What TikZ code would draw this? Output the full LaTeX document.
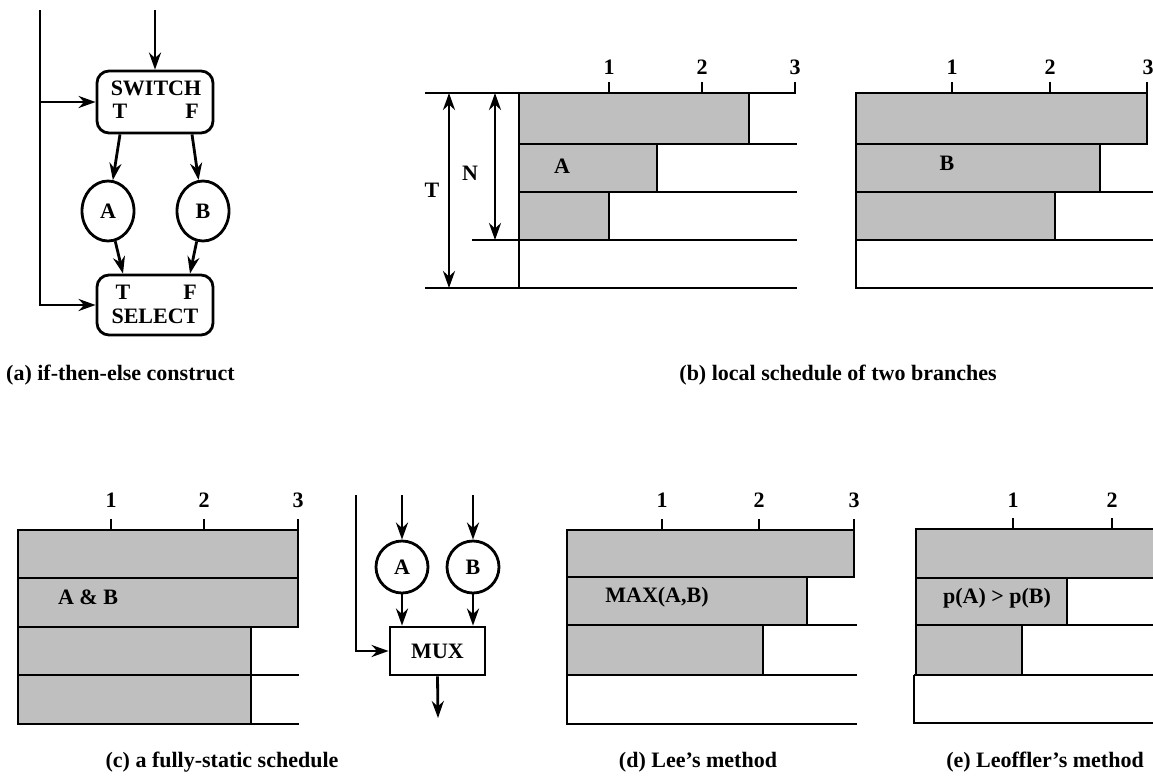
\documentclass[tikz,border=0pt]{standalone}
\usepackage{fontspec}
\setmainfont{Liberation Serif}
\usetikzlibrary{arrows.meta,shapes.geometric}
\begin{document}
\begin{tikzpicture}[x=1pt,y=-1pt,
  every node/.style={font=\fontsize{22}{24}\selectfont\bfseries, inner sep=0pt},
  ln/.style={line width=2.8pt},
  tip/.tip={Stealth[length=17pt,width=12pt,inset=5.5pt]},
  arr/.style={ln,-tip},
  darr/.style={ln,tip-tip},
  shade/.style={ln, fill=black!25},
  rbox/.style={draw, ln, rounded corners=12pt, minimum width=116pt, minimum height=62pt},
  sbox/.style={draw, ln, minimum width=95pt, minimum height=48pt},
  circ/.style={draw, ln, circle, minimum size=52pt},
  ell/.style={draw, ln, ellipse, minimum width=52pt, minimum height=60pt},
]
\useasboundingbox (0,0) rectangle (1153,780);

% ---------- (a) if-then-else ----------
\node[rbox] (switch) at (155,102) {};
\node (swtxt) at (156,88) {SWITCH};
\node (swT) at (120,111) {T};
\node (swF) at (192,111) {F};
\node[ell] (A1) at (108,211) {A};
\node[ell] (B1) at (203,211) {B};
\node[rbox, minimum height=60pt] (select) at (155,305) {};
\node (seT) at (123,292) {T};
\node (seF) at (190,292) {F};
\node (setxt) at (155,316) {SELECT};
\coordinate (ctop) at (40,10);
\coordinate (in1) at (155,10);
\draw[arr] (in1) -- (switch.north);
\draw[arr] (ctop) |- (select.west);
\draw[arr] (ctop |- switch.west) -- (switch.west);
\draw[arr] (swT |- switch.south) -- (A1);
\draw[arr] (swF |- switch.south) -- (B1);
\draw[arr] (A1) -- (seT |- select.north);
\draw[arr] (B1) -- (seF |- select.north);
\node[anchor=west] (capa) at (6,375) {(a) if-then-else construct};

% ---------- (b) local schedule, left ----------
\node (bl1) at (609,67) {1};
\node (bl2) at (702,67) {2};
\node (bl3) at (795,67) {3};
\draw[shade] (519,93) rectangle (749,144);
\draw[shade] (519,144) rectangle (657,192);
\draw[shade] (519,192) rectangle (609,240);
\draw[ln] (425,93) -- (795,93) -- (795,82);
\draw[ln] (609,93) -- (609,82);
\draw[ln] (702,93) -- (702,82);
\draw[ln] (749,144) -- (797,144);
\draw[ln] (657,192) -- (797,192);
\draw[ln] (472,240) -- (797,240);
\draw[ln] (425,288) -- (797,288);
\draw[ln] (519,93) -- (519,288);
\draw[darr] (449,93) -- (449,288);
\draw[darr] (495,93) -- (495,240);
\node (bT) at (432,190) {T};
\node (bN) at (470,173) {N};
\node (bA) at (562,166) {A};

% ---------- (b) local schedule, right ----------
\node (br1) at (952,67) {1};
\node (br2) at (1050,67) {2};
\node (br3) at (1148,67) {3};
\draw[shade] (856,93) rectangle (1147,144);
\draw[shade] (856,144) rectangle (1100,192);
\draw[shade] (856,192) rectangle (1055,240);
\draw[ln] (856,93) -- (1147,93) -- (1147,82);
\draw[ln] (952,93) -- (952,82);
\draw[ln] (1050,93) -- (1050,82);
\draw[ln] (1100,192) -- (1160,192);
\draw[ln] (1055,240) -- (1160,240);
\draw[ln] (856,240) -- (856,288) -- (1160,288);
\node (bB) at (947,163) {B};
\node (capb) at (838,375) {(b) local schedule of two branches};

% ---------- (c) fully-static ----------
\node (c1) at (111,500) {1};
\node (c2) at (204,500) {2};
\node (c3) at (298,500) {3};
\draw[shade] (18,530) rectangle (298,578);
\draw[shade] (18,578) rectangle (298,627);
\draw[shade] (18,627) rectangle (251,675);
\draw[shade] (18,675) rectangle (251,724);
\draw[ln] (18,530) -- (298,530) -- (298,519);
\draw[ln] (111,530) -- (111,519);
\draw[ln] (204,530) -- (204,519);
\draw[ln] (251,675) -- (299,675);
\draw[ln] (251,724) -- (299,724);
\node (cAB) at (88,597) {A \& B};

% ---------- MUX ----------
\node[sbox] (mux) at (437.5,651) {MUX};
\node[circ] (A2) at (402,567) {A};
\node[circ] (B2) at (473,567) {B};
\coordinate (ma) at (402,495);
\coordinate (mb) at (473,495);
\coordinate (mc) at (356,495);
\coordinate (mo) at (438,718);
\draw[arr] (ma) -- (A2);
\draw[arr] (mb) -- (B2);
\draw[arr] (A2) -- (A2 |- mux.north);
\draw[arr] (B2) -- (B2 |- mux.north);
\draw[arr] (mc) |- (mux.west);
\draw[arr] (mux.south) -- (mo);
\node (capc) at (222,762) {(c) a fully-static schedule};

% ---------- (d) Lee's method ----------
\node (d1) at (662,500) {1};
\node (d2) at (759,500) {2};
\node (d3) at (854,500) {3};
\draw[shade] (567,530) rectangle (854,577);
\draw[shade] (567,577) rectangle (807,625);
\draw[shade] (567,625) rectangle (763,675);
\draw[ln] (567,530) -- (854,530) -- (854,519);
\draw[ln] (662,530) -- (662,519);
\draw[ln] (759,530) -- (759,519);
\draw[ln] (807,625) -- (857,625);
\draw[ln] (763,675) -- (857,675);
\draw[ln] (567,675) -- (567,724) -- (857,724);
\node (dMax) at (657,597) {MAX(A,B)};
\node (capd) at (698,762) {(d) Lee’s method};

% ---------- (e) Leoffler's method ----------
\node (e1) at (1013,500) {1};
\node (e2) at (1112,500) {2};
\draw[shade] (916,529) rectangle (1160,578);
\draw[shade] (916,578) rectangle (1067,625);
\draw[shade] (916,625) rectangle (1022,675);
\draw[ln] (916,529) -- (1160,529);
\draw[ln] (1013,529) -- (1013,518);
\draw[ln] (1112,529) -- (1112,518);
\draw[ln] (1067,625) -- (1160,625);
\draw[ln] (914,675) -- (1160,675);
\draw[ln] (914,675) -- (914,723) -- (1160,723);
\node (eP) at (997,598) {p(A) > p(B)};
\node (cape) at (1045,762) {(e) Leoffler’s method};
\end{tikzpicture}
\end{document}
